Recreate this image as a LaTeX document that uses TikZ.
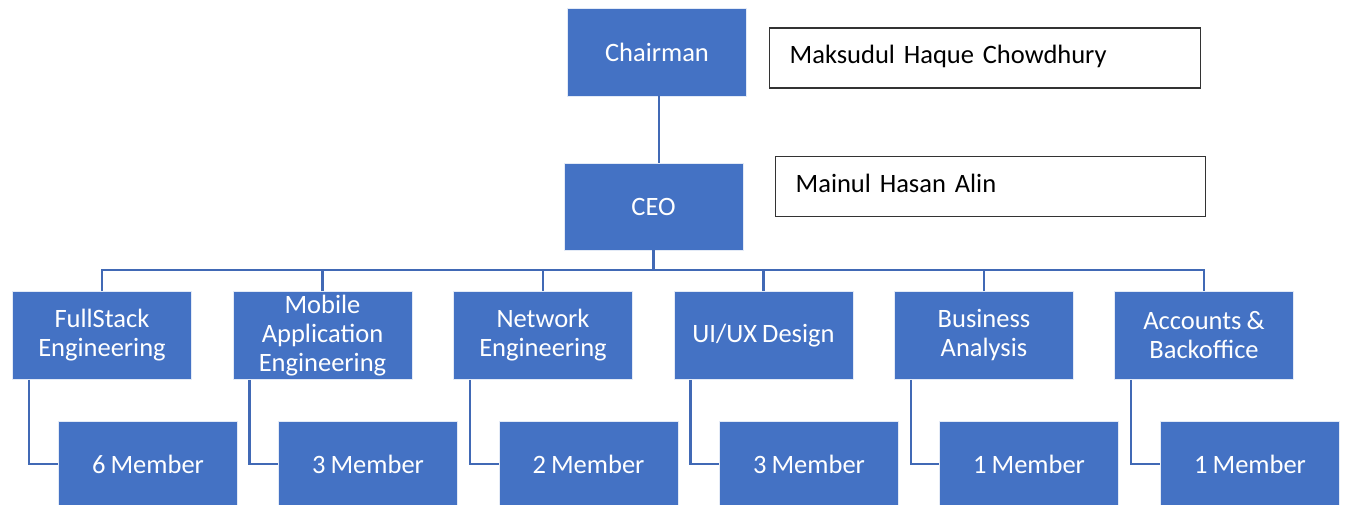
\documentclass[tikz,border=0pt]{standalone}
\usepackage{fontspec}
\setmainfont{Carlito}[WordSpace=0.85]
\definecolor{boxblue}{HTML}{4472C4}
\definecolor{lineblue}{HTML}{4169B5}
\begin{document}
\begin{tikzpicture}[x=1pt,y=-1pt,
  bluebox/.style={rectangle,fill=boxblue,draw=white!85!boxblue,line width=0.8pt,
    minimum width=179pt,text=white,align=center,inner sep=0pt,
    font=\fontsize{26.5}{29}\selectfont},
  namebox/.style={rectangle,fill=white,draw=black!80,line width=1.3pt,
    minimum height=60pt,anchor=west,text width=390pt,align=left,inner xsep=20pt,
    font=\fontsize{26.5}{29}\selectfont},
  conn/.style={draw=lineblue,line width=2.6pt}]
\useasboundingbox (0,0) rectangle (1347,505);
\clip (0,0) rectangle (1347,505);
% top
\node[bluebox,minimum height=88pt] (chair) at (657,52) {Chairman};
\node[bluebox,minimum height=87pt] (ceo) at (653.5,206.5) {CEO};
\node[namebox,text width=391pt] (n1) at (769,58) {Maksudul Haque Chowdhury\strut};
\node[namebox,text width=390pt] (n2) at (775,186.5) {Mainul Hasan Alin\strut};
% departments
\foreach \i/\cx/\t in {1/102/{FullStack\\Engineering},2/322.5/{Mobile\\Application\\Engineering},
  3/543/{Network\\Engineering},4/763.5/{UI/UX Design},5/984/{Business\\Analysis},6/1204/{Accounts \&\\Backoffice}}{
  \node[bluebox,minimum height=88pt] (d\i) at (\cx,335.5) {\t};
}
\foreach \i/\cx/\t in {1/148/{6 Member},2/368/{3 Member},3/588.5/{2 Member},4/809/{3 Member},5/1029/{1 Member},6/1250/{1 Member}}{
  \node[bluebox,minimum height=90pt,anchor=north] (m\i) at (\cx,421) {};
  \node[text=white,font=\fontsize{26.5}{29}\selectfont,inner sep=0pt] (t\i) at (\cx,464) {\t};
}
% connectors
\coordinate (bus) at (0,270);
\draw[conn] ([xshift=2pt]chair.south) -- ([xshift=2pt]chair.south |- ceo.north);
\draw[conn] (ceo.south) -- (ceo.south |- bus);
\draw[conn] (d1.north) -- (d1.north |- bus) -- (d6.north |- bus) -- (d6.north);
\foreach \i in {2,3,4,5}{
  \draw[conn] (d\i.north) -- (d\i.north |- bus);
}
\foreach \i in {1,...,6}{
  \draw[conn] ([xshift=17pt]d\i.south west) |- (m\i.west |- t\i);
}
\end{tikzpicture}
\end{document}
